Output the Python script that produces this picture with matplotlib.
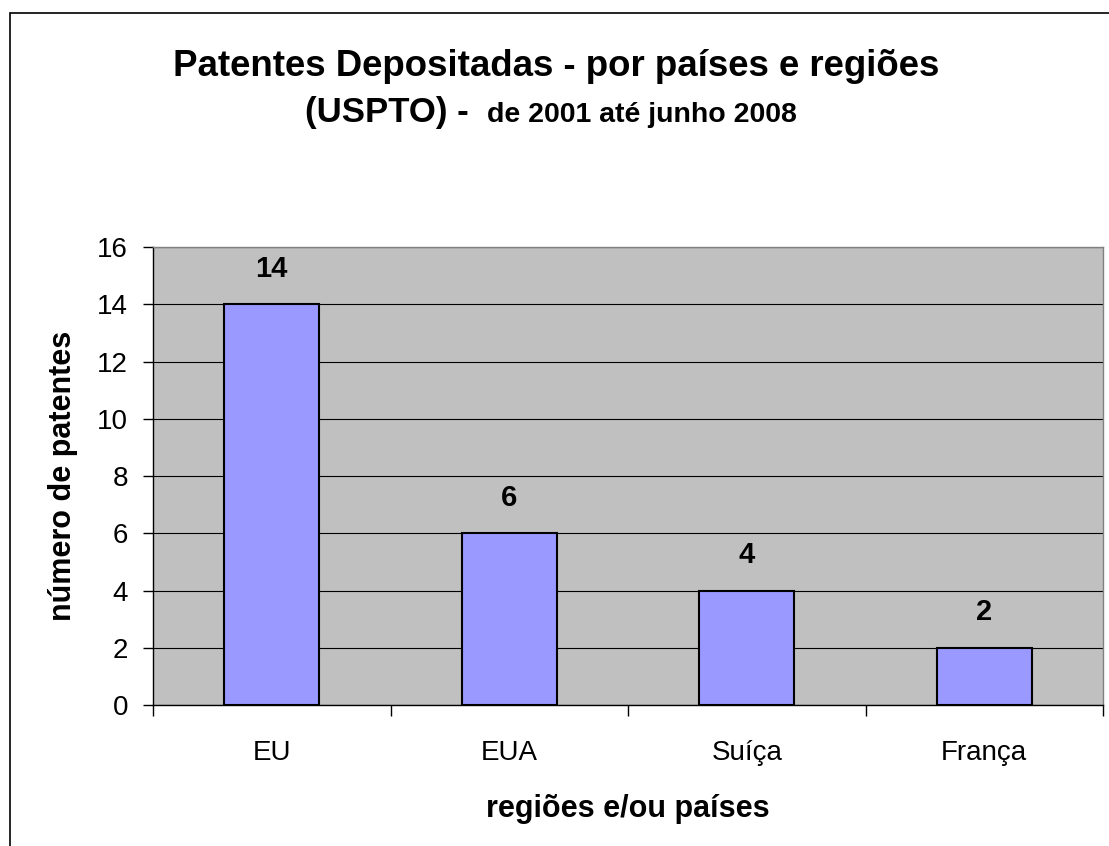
import matplotlib
matplotlib.use("Agg")
import matplotlib.pyplot as plt
from matplotlib.patches import Rectangle
from matplotlib.ticker import FixedLocator

categories = ["EU", "EUA", "Suíça", "França"]
values = [14, 6, 4, 2]
yticks = [0, 2, 4, 6, 8, 10, 12, 14, 16]

plt.rcParams['font.family'] = ['Liberation Sans', 'DejaVu Sans']

W, H = 1109, 846
fig = plt.figure(figsize=(W / 100, H / 100), dpi=100)
ax = fig.add_axes([153 / W, 1 - 705 / H, (1103 - 153) / W, (705 - 247) / H])
ax.set_facecolor('#C0C0C0')

x = list(range(len(categories)))
ax.set_axisbelow(True)
ax.yaxis.grid(True, color='black', linewidth=0.8)
bars = ax.bar(x, values, width=0.4, color='#9999FF', edgecolor='black', linewidth=1.5, zorder=3)
for xi, v in zip(x, values):
    ax.text(xi, v + 0.75, str(v), ha='center', va='bottom', fontsize=21, fontweight='bold')

ax.set_xlim(-0.5, len(categories) - 0.5)
ax.set_ylim(0, 16)
ax.set_yticks(yticks)
ax.set_yticklabels([str(t) for t in yticks], fontsize=20)
ax.set_xticks(x)
ax.set_xticklabels(categories, fontsize=20)
ax.tick_params(axis='x', which='major', length=0, pad=25)
ax.xaxis.set_minor_locator(FixedLocator([i - 0.5 for i in range(len(categories) + 1)]))
ax.tick_params(axis='x', which='minor', length=8, width=1, direction='out')
ax.tick_params(axis='y', length=7, width=1, direction='out', pad=11)

for s in ['top', 'right']:
    ax.spines[s].set_color('#808080')
    ax.spines[s].set_linewidth(1)
for s in ['left', 'bottom']:
    ax.spines[s].set_color('black')
    ax.spines[s].set_linewidth(1)

ax.set_xlabel('regiões e/ou países', fontsize=22, fontweight='bold', labelpad=20)
ax.set_ylabel('número de patentes', fontsize=22, fontweight='bold', labelpad=14)

fig.text(556 / W, 1 - 76 / H, 'Patentes Depositadas - por países e regiões',
         ha='center', va='baseline', fontsize=26.4, fontweight='bold')
fig.text(305 / W, 1 - 122 / H, '(USPTO) -', ha='left', va='baseline',
         fontsize=25, fontweight='bold')
fig.text(487 / W, 1 - 122 / H, 'de 2001 até junho 2008', ha='left', va='baseline',
         fontsize=20.5, fontweight='bold')

fig.patches.append(Rectangle((9.5 / W, -0.05), 1.1, 1 - 13.5 / H + 0.05,
                             transform=fig.transFigure, fill=False,
                             edgecolor='black', linewidth=1.2))

fig.savefig('out.png', dpi=100)
